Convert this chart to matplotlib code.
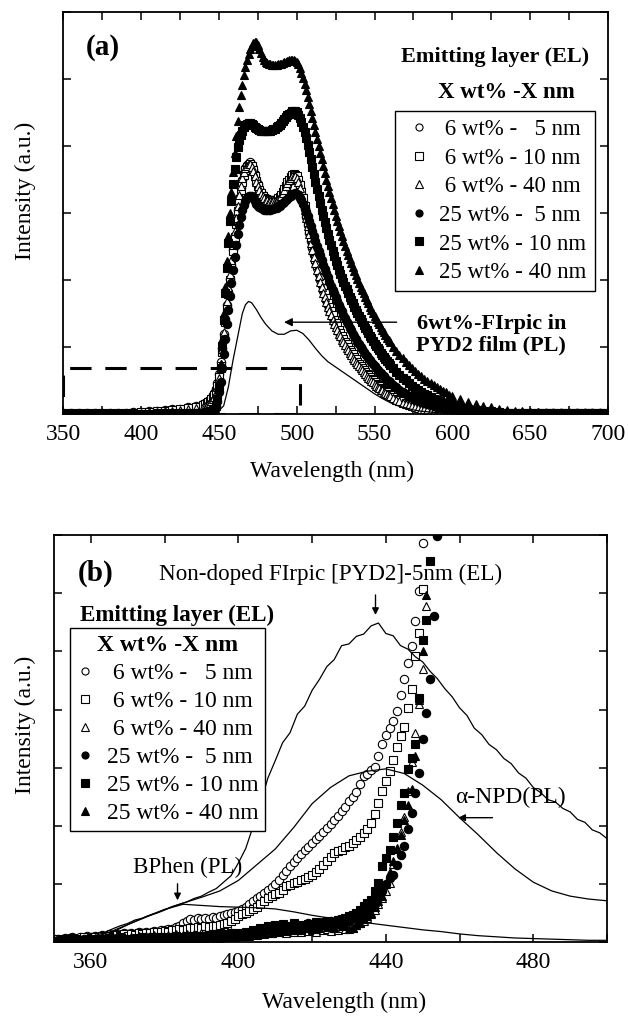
import numpy as np
import matplotlib
matplotlib.use("Agg")
import matplotlib.pyplot as plt
from matplotlib.patches import Rectangle
from matplotlib.ticker import MultipleLocator, NullFormatter

plt.rcParams['font.family'] = ['Liberation Serif', 'DejaVu Serif']

# ---------------- Panel (a) data ----------------
wl_a = np.concatenate([np.arange(350, 441, 5), np.arange(441, 561, 1),
                       np.arange(562, 601, 2), np.arange(605, 701, 5)])

a_6_5 = [0.01,0.01,0.01,0.01,0.01,0.01,0.02,0.02,0.02,0.03,0.03,0.04,0.05,0.06,0.07,0.08,0.10,0.12,0.15,
         0.16,0.17,0.19,0.21,0.24,0.27,0.31,0.37,0.46,0.60,
         0.78,0.98,1.20,1.42,1.62,1.82,2.02,2.22,2.45,2.66,
         2.86,3.05,3.22,3.38,3.50,3.60,3.67,3.72,3.75,3.76,
         3.72,3.66,3.58,3.50,3.43,3.36,3.31,3.27,3.24,3.22,
         3.20,3.19,3.19,3.18,3.18,3.18,3.19,3.20,3.22,3.25,
         3.29,3.33,3.38,3.43,3.48,3.52,3.55,3.57,3.56,3.54,
         3.48,3.39,3.29,3.18,3.06,2.94,2.82,2.70,2.59,2.48,
         2.38,2.28,2.18,2.09,2.00,1.92,1.84,1.77,1.70,1.63,
         1.56,1.50,1.44,1.38,1.33,1.28,1.23,1.18,1.13,1.09,
         1.05,1.01,0.97,0.93,0.90,0.86,0.83,0.79,0.76,0.73,
         0.70,0.67,0.64,0.61,0.59,0.56,0.54,0.51,0.49,0.47,
         0.44,0.42,0.40,0.38,0.36,0.34,0.33,0.31,0.29,0.28,
         0.25,0.22,0.20,0.18,0.16,0.14,0.12,0.11,0.10,0.09,0.08,0.07,0.06,0.05,0.05,0.04,0.03,0.03,0.02,0.02,
         0.02,0.01,0.01,0.01,0.01,0.01,0.01,0.01,0.01,0.01,0.01,0.01,0.01,0.01,0.01,0.01,0.01,0.01,0.01,0.01]
a_6_10 = [0.01,0.01,0.01,0.01,0.01,0.01,0.01,0.02,0.02,0.02,0.03,0.03,0.04,0.05,0.06,0.07,0.09,0.11,0.14,
          0.15,0.16,0.18,0.20,0.22,0.25,0.29,0.34,0.42,0.55,
          0.72,0.92,1.14,1.37,1.58,1.79,2.00,2.21,2.43,2.64,
          2.84,3.03,3.20,3.35,3.47,3.57,3.64,3.69,3.72,3.73,
          3.70,3.64,3.56,3.48,3.41,3.35,3.30,3.26,3.23,3.21,
          3.20,3.19,3.19,3.19,3.19,3.19,3.20,3.22,3.24,3.27,
          3.31,3.36,3.41,3.46,3.50,3.54,3.57,3.58,3.57,3.55,
          3.50,3.42,3.32,3.22,3.10,2.98,2.86,2.74,2.63,2.52,
          2.42,2.32,2.22,2.13,2.04,1.96,1.88,1.80,1.73,1.66,
          1.59,1.53,1.47,1.41,1.36,1.31,1.26,1.21,1.16,1.12,
          1.08,1.04,1.00,0.96,0.92,0.89,0.85,0.82,0.78,0.75,
          0.72,0.69,0.66,0.63,0.60,0.58,0.55,0.52,0.50,0.48,
          0.45,0.43,0.41,0.39,0.37,0.35,0.34,0.32,0.30,0.29,
          0.26,0.23,0.21,0.19,0.17,0.15,0.13,0.12,0.11,0.10,0.09,0.08,0.07,0.06,0.05,0.04,0.04,0.03,0.03,0.02,
          0.02,0.01,0.01,0.01,0.01,0.01,0.01,0.01,0.01,0.01,0.01,0.01,0.01,0.01,0.01,0.01,0.01,0.01,0.01,0.01]
a_6_40 = [0.01,0.01,0.01,0.01,0.01,0.01,0.01,0.01,0.02,0.02,0.02,0.03,0.03,0.04,0.05,0.06,0.07,0.09,0.11,
          0.12,0.13,0.15,0.17,0.19,0.22,0.26,0.31,0.40,0.54,
          0.74,0.97,1.22,1.46,1.68,1.89,2.09,2.30,2.52,2.73,
          2.93,3.11,3.27,3.41,3.52,3.61,3.67,3.71,3.73,3.73,
          3.69,3.63,3.55,3.47,3.40,3.34,3.29,3.25,3.22,3.20,
          3.19,3.18,3.18,3.18,3.18,3.18,3.19,3.21,3.23,3.26,
          3.30,3.35,3.40,3.45,3.49,3.52,3.55,3.56,3.55,3.52,
          3.47,3.38,3.27,3.17,3.05,2.92,2.80,2.68,2.56,2.45,
          2.35,2.25,2.15,2.06,1.97,1.89,1.81,1.74,1.67,1.60,
          1.53,1.47,1.41,1.35,1.30,1.25,1.20,1.16,1.11,1.07,
          1.03,0.99,0.95,0.91,0.88,0.84,0.81,0.77,0.74,0.71,
          0.68,0.65,0.62,0.59,0.57,0.54,0.52,0.49,0.47,0.45,
          0.42,0.40,0.38,0.36,0.35,0.33,0.31,0.30,0.28,0.27,
          0.24,0.21,0.19,0.17,0.15,0.13,0.12,0.10,0.09,0.08,0.07,0.06,0.05,0.05,0.04,0.04,0.03,0.03,0.02,0.02,
          0.02,0.01,0.01,0.01,0.01,0.01,0.01,0.01,0.01,0.01,0.01,0.01,0.01,0.01,0.01,0.01,0.01,0.01,0.01,0.01]
a_25_5 = [0.00,0.00,0.00,0.00,0.00,0.00,0.00,0.00,0.00,0.00,0.00,0.00,0.01,0.01,0.01,0.01,0.01,0.02,0.02,
          0.02,0.03,0.03,0.04,0.05,0.06,0.08,0.12,0.20,0.32,
          0.48,0.68,0.90,1.12,1.34,1.55,1.76,1.96,2.15,2.34,
          2.52,2.68,2.82,2.94,3.04,3.12,3.18,3.22,3.25,3.26,
          3.25,3.22,3.18,3.14,3.11,3.09,3.07,3.06,3.05,3.05,
          3.05,3.05,3.05,3.06,3.06,3.07,3.08,3.10,3.11,3.13,
          3.15,3.17,3.19,3.21,3.24,3.26,3.28,3.29,3.30,3.29,
          3.27,3.23,3.19,3.14,3.08,3.02,2.95,2.88,2.80,2.73,
          2.66,2.58,2.51,2.44,2.37,2.30,2.23,2.17,2.10,2.04,
          1.97,1.91,1.85,1.80,1.74,1.69,1.63,1.58,1.53,1.48,
          1.43,1.38,1.34,1.29,1.25,1.20,1.16,1.12,1.08,1.04,
          1.00,0.97,0.93,0.90,0.86,0.83,0.80,0.77,0.74,0.71,
          0.68,0.66,0.63,0.61,0.58,0.56,0.53,0.51,0.49,0.47,
          0.43,0.40,0.36,0.33,0.30,0.27,0.25,0.23,0.21,0.19,0.17,0.15,0.14,0.12,0.11,0.10,0.09,0.08,0.07,0.06,
          0.05,0.04,0.03,0.03,0.02,0.02,0.02,0.01,0.01,0.01,0.01,0.01,0.01,0.01,0.01,0.01,0.01,0.01,0.01,0.01]
a_25_10 = [0.00,0.00,0.00,0.00,0.00,0.00,0.00,0.00,0.00,0.00,0.00,0.00,0.01,0.01,0.01,0.01,0.01,0.02,0.02,
           0.02,0.03,0.03,0.04,0.05,0.06,0.08,0.12,0.22,0.40,
           0.68,1.02,1.40,1.80,2.18,2.55,2.88,3.18,3.44,3.66,
           3.84,3.98,4.09,4.17,4.23,4.28,4.31,4.33,4.34,4.34,
           4.33,4.31,4.29,4.27,4.25,4.24,4.23,4.22,4.22,4.22,
           4.22,4.22,4.23,4.24,4.25,4.26,4.28,4.30,4.32,4.35,
           4.38,4.40,4.43,4.46,4.48,4.50,4.52,4.53,4.52,4.51,
           4.47,4.42,4.36,4.29,4.21,4.12,4.02,3.91,3.80,3.69,
           3.58,3.47,3.36,3.25,3.15,3.05,2.95,2.86,2.77,2.68,
           2.60,2.52,2.44,2.36,2.29,2.22,2.15,2.09,2.03,1.97,
           1.91,1.86,1.80,1.75,1.70,1.65,1.60,1.55,1.50,1.46,
           1.42,1.37,1.33,1.29,1.25,1.21,1.17,1.13,1.09,1.05,
           1.02,0.98,0.95,0.91,0.88,0.85,0.82,0.79,0.76,0.73,
           0.68,0.63,0.58,0.54,0.50,0.46,0.42,0.39,0.36,0.33,0.30,0.28,0.25,0.23,0.21,0.19,0.17,0.16,0.14,0.13,
           0.10,0.08,0.06,0.05,0.04,0.03,0.02,0.02,0.01,0.01,0.01,0.01,0.01,0.01,0.01,0.01,0.01,0.01,0.01,0.01]
a_25_40 = [0.00,0.00,0.00,0.00,0.00,0.00,0.00,0.00,0.00,0.00,0.00,0.00,0.01,0.01,0.01,0.01,0.01,0.02,0.02,
           0.02,0.03,0.03,0.04,0.05,0.06,0.08,0.12,0.22,0.42,
           0.75,1.12,1.50,1.90,2.28,2.65,3.00,3.32,3.62,3.90,
           4.15,4.38,4.58,4.76,4.92,5.06,5.18,5.29,5.38,5.45,
           5.50,5.54,5.56,5.55,5.51,5.45,5.39,5.33,5.29,5.26,
           5.24,5.23,5.22,5.21,5.21,5.21,5.21,5.22,5.22,5.23,
           5.24,5.25,5.26,5.27,5.28,5.29,5.29,5.29,5.27,5.25,
           5.22,5.16,5.09,5.02,4.93,4.84,4.74,4.63,4.53,4.42,
           4.31,4.21,4.10,4.00,3.90,3.80,3.70,3.60,3.50,3.41,
           3.31,3.22,3.13,3.05,2.96,2.88,2.80,2.73,2.65,2.58,
           2.51,2.44,2.37,2.31,2.25,2.19,2.13,2.07,2.01,1.96,
           1.90,1.85,1.80,1.75,1.70,1.65,1.60,1.55,1.50,1.46,
           1.42,1.38,1.34,1.30,1.26,1.22,1.18,1.14,1.10,1.07,
           1.00,0.94,0.88,0.83,0.78,0.73,0.68,0.64,0.60,0.56,0.52,0.49,0.46,0.43,0.40,0.37,0.34,0.32,0.29,0.27,
           0.22,0.18,0.15,0.12,0.10,0.08,0.06,0.05,0.04,0.03,0.03,0.02,0.02,0.02,0.01,0.01,0.01,0.01,0.01,0.01]

wl_pl = [350,400,440,445,450,453,456,459,462,465,467,469,471,474,477,480,484,488,492,496,
         500,504,508,512,516,520,525,530,535,540,545,550,555,560,565,570,575,580,590,600,620,650,700]
pl_film = [0,0,0.01,0.02,0.05,0.12,0.4,0.8,1.15,1.5,1.63,1.68,1.66,1.56,1.44,1.34,1.24,1.19,1.19,1.24,
           1.25,1.2,1.1,0.98,0.87,0.78,0.7,0.62,0.54,0.46,0.38,0.3,0.23,0.17,0.12,0.09,0.06,0.04,0.02,0.01,0,0,0]

# ---------------- Panel (b) data ----------------
b_6_5 = [0.05,0.06,0.04,0.07,0.05,0.08,0.06,0.09,0.07,0.10,
         0.08,0.10,0.09,0.12,0.10,0.13,0.11,0.14,0.12,0.15,
         0.13,0.16,0.14,0.17,0.15,0.18,0.16,0.19,0.18,0.21,
         0.20,0.23,0.22,0.26,0.28,0.33,0.37,0.39,0.38,0.41,
         0.39,0.42,0.40,0.43,0.42,0.45,0.46,0.48,0.50,0.52,
         0.54,0.57,0.61,0.65,0.70,0.75,0.80,0.85,0.90,0.95,
         1.00,1.07,1.15,1.23,1.30,1.37,1.45,1.52,1.58,1.64,
         1.70,1.77,1.83,1.90,1.97,2.03,2.10,2.17,2.25,2.33,
         2.42,2.50,2.58,2.72,2.85,2.90,2.96,3.02,3.20,3.40,
         3.57,3.68,3.80,3.98,4.25,4.52,4.80,5.10,5.52,6.04,
         6.87,7.60]
b_6_10 = [0.03,0.05,0.02,0.06,0.04,0.07,0.03,0.06,0.08,0.05,
          0.07,0.09,0.06,0.10,0.08,0.11,0.09,0.12,0.10,0.13,
          0.11,0.14,0.12,0.15,0.13,0.16,0.16,0.17,0.18,0.17,
          0.19,0.18,0.20,0.21,0.22,0.21,0.23,0.25,0.24,0.26,
          0.25,0.27,0.26,0.28,0.28,0.29,0.31,0.33,0.36,0.40,
          0.45,0.48,0.50,0.54,0.57,0.60,0.65,0.70,0.75,0.79,
          0.82,0.85,0.90,0.96,0.99,1.02,1.04,1.06,1.08,1.12,
          1.16,1.20,1.25,1.32,1.39,1.46,1.54,1.57,1.59,1.63,
          1.66,1.70,1.75,1.80,1.87,1.94,2.04,2.20,2.40,2.60,
          2.77,2.95,3.14,3.35,3.55,3.70,4.03,4.35,4.92,5.32,
          6.07,7.50]
b_6_40 = [0.02,0.05,0.03,0.06,0.02,0.07,0.04,0.03,0.06,0.05,
          0.04,0.07,0.05,0.08,0.04,0.06,0.09,0.05,0.07,0.10,
          0.06,0.09,0.07,0.11,0.08,0.10,0.07,0.12,0.09,0.11,
          0.08,0.12,0.10,0.13,0.09,0.12,0.14,0.10,0.13,0.11,
          0.15,0.12,0.14,0.11,0.16,0.13,0.15,0.12,0.17,0.14,
          0.16,0.13,0.18,0.15,0.17,0.14,0.19,0.16,0.18,0.15,
          0.20,0.17,0.19,0.16,0.21,0.18,0.20,0.17,0.22,0.19,
          0.21,0.18,0.23,0.20,0.22,0.19,0.24,0.21,0.25,0.23,
          0.27,0.25,0.30,0.33,0.37,0.42,0.48,0.56,0.65,0.76,
          0.88,1.02,1.34,1.62,1.90,2.15,2.60,3.10,3.60,4.10,
          4.70,5.78,7.40]
b_25_5 = [0.01,0.03,0.00,0.04,0.02,0.05,0.01,0.03,0.06,0.02,
          0.04,0.01,0.05,0.03,0.06,0.02,0.04,0.07,0.03,0.05,
          0.02,0.06,0.04,0.07,0.03,0.05,0.08,0.04,0.06,0.03,
          0.07,0.05,0.08,0.04,0.06,0.09,0.05,0.07,0.10,0.06,
          0.08,0.05,0.09,0.07,0.10,0.06,0.11,0.08,0.12,0.09,
          0.13,0.10,0.15,0.11,0.18,0.14,0.20,0.16,0.22,0.17,
          0.24,0.19,0.26,0.21,0.28,0.23,0.30,0.25,0.27,0.32,
          0.26,0.33,0.28,0.35,0.30,0.36,0.31,0.38,0.34,0.40,
          0.36,0.42,0.39,0.45,0.43,0.52,0.58,0.66,0.76,0.88,
          1.00,1.10,1.16,1.32,1.50,1.65,1.95,2.22,2.57,2.91,
          3.49,3.94,4.52,5.61,6.98]
b_25_10 = [0.02,0.00,0.04,0.01,0.03,0.05,0.02,0.04,0.01,0.06,
           0.03,0.05,0.02,0.06,0.04,0.07,0.03,0.05,0.08,0.04,
           0.06,0.03,0.07,0.05,0.08,0.04,0.07,0.09,0.05,0.08,
           0.06,0.09,0.07,0.10,0.06,0.09,0.11,0.08,0.10,0.07,
           0.11,0.09,0.12,0.08,0.13,0.10,0.14,0.11,0.15,0.12,
           0.16,0.13,0.18,0.15,0.21,0.17,0.24,0.20,0.27,0.22,
           0.29,0.24,0.31,0.26,0.28,0.33,0.27,0.30,0.25,0.31,
           0.28,0.34,0.29,0.32,0.36,0.33,0.35,0.38,0.39,0.41,
           0.44,0.47,0.50,0.56,0.62,0.68,0.73,0.88,1.02,1.31,
           1.45,1.59,1.80,2.05,2.35,2.57,2.97,3.17,3.40,4.20,
           5.20,5.55,6.55,7.50]
b_25_40 = [0.01,0.03,0.01,0.02,0.04,0.01,0.03,0.05,0.02,0.04,
           0.02,0.05,0.03,0.06,0.02,0.04,0.06,0.03,0.05,0.02,
           0.05,0.03,0.06,0.04,0.07,0.03,0.06,0.04,0.08,0.05,
           0.07,0.04,0.08,0.06,0.09,0.05,0.08,0.06,0.10,0.07,
           0.09,0.06,0.11,0.08,0.10,0.07,0.12,0.09,0.11,0.08,
           0.13,0.10,0.14,0.11,0.16,0.12,0.18,0.14,0.20,0.15,
           0.22,0.17,0.24,0.19,0.23,0.20,0.26,0.21,0.25,0.28,
           0.22,0.27,0.24,0.30,0.26,0.29,0.25,0.31,0.28,0.30,
           0.22,0.25,0.30,0.33,0.40,0.45,0.50,0.60,0.70,0.80,
           1.00,1.20,1.40,1.60,1.85,2.10,2.35,2.63,3.20,4.17,
           5.00,5.98,7.30]

wl_el = np.arange(350, 501, 2)
el_nondoped = [0.00,0.00,0.01,0.02,0.04,0.08,0.13,0.17,0.23,0.28,
               0.32,0.38,0.41,0.46,0.50,0.55,0.61,0.65,0.69,0.75,
               0.79,0.86,0.92,1.03,1.14,1.36,1.61,1.99,2.38,2.82,
               3.12,3.43,3.60,3.92,4.06,4.33,4.52,4.74,4.86,5.10,
               5.13,5.26,5.30,5.44,5.49,5.31,5.27,5.10,5.04,4.91,
               4.82,4.66,4.53,4.36,4.22,4.03,3.90,3.68,3.57,3.40,
               3.31,3.16,3.07,2.91,2.82,2.66,2.57,2.45,2.41,2.30,
               2.24,2.11,2.06,1.93,1.88,1.78]
wl_pl_b = np.arange(350, 501, 5)
npd_pl = [0.00,0.00,0.03,0.14,0.30,0.44,0.56,0.67,0.77,0.88,1.06,1.33,1.60,1.97,2.38,2.66,
          2.86,2.94,2.98,2.90,2.70,2.45,2.14,1.85,1.54,1.26,1.03,0.88,0.79,0.74,0.71]
bphen_pl = [0.00,0.01,0.06,0.17,0.30,0.43,0.56,0.65,0.63,0.61,0.60,0.59,0.57,0.52,0.46,0.41,
            0.37,0.33,0.29,0.25,0.21,0.18,0.14,0.11,0.09,0.07,0.06,0.05,0.04,0.03,0.03]

labels = [' 6 wt% -   5 nm', ' 6 wt% - 10 nm', ' 6 wt% - 40 nm',
          '25 wt% -  5 nm', '25 wt% - 10 nm', '25 wt% - 40 nm']
markers = ['o', 's', '^', 'o', 's', '^']
faces = ['white', 'white', 'white', 'black', 'black', 'black']

series_a = [a_6_5, a_6_10, a_6_40, a_25_5, a_25_10, a_25_40]
series_b = [b_6_5, b_6_10, b_6_40, b_25_5, b_25_10, b_25_40]

# ---------------- Figure ----------------
fig = plt.figure(figsize=(6.28, 10.17), dpi=100)
axa = fig.add_axes([0.101, 0.593, 0.867, 0.395])
axb = fig.add_axes([0.086, 0.0737, 0.8806, 0.400])

def style_axes(ax):
    for s in ax.spines.values():
        s.set_linewidth(1.3)
    ax.tick_params(which='both', direction='in', top=True, right=True,
                   width=1.1, labelsize=17, pad=7)
    ax.tick_params(which='major', length=6)
    ax.tick_params(which='minor', length=6)
    ax.yaxis.set_major_formatter(NullFormatter())

# ---- panel (a)
handles = []
for y, m, fc, lab in zip(series_a, markers, faces, labels):
    h, = axa.plot(wl_a, y, linestyle='none', marker=m, ms=6, mfc=fc,
                  mec='black', mew=0.8, label=lab)
    handles.append(h)
axa.plot(wl_pl, pl_film, color='black', lw=0.9)
axa.add_patch(Rectangle((350, 0), 152, 0.69, fill=False, lw=2.2,
                        ls=(0, (7, 4.5)), ec='black', zorder=5))
axa.set_xlim(350, 700)
axa.set_ylim(0, 6)
axa.xaxis.set_major_locator(MultipleLocator(50))
axa.xaxis.set_minor_locator(MultipleLocator(25))
axa.yaxis.set_major_locator(MultipleLocator(1))
style_axes(axa)
axa.set_xlabel('Wavelength (nm)', fontsize=17)
axa.xaxis.set_label_coords(0.493, -0.117)
axa.set_ylabel('Intensity (a.u.)', fontsize=17)
axa.yaxis.set_label_coords(-0.05, 0.555)
axa.text(0.0725, 0.913, '(a)', transform=axa.transAxes, fontsize=21,
         fontweight='bold', ha='center', va='center')
axa.text(0.792, 0.888, 'Emitting layer (EL)', transform=axa.transAxes,
         fontsize=16, fontweight='bold', ha='center', va='center')
axa.text(0.813, 0.801, 'X wt% -X nm', transform=axa.transAxes,
         fontsize=16.5, fontweight='bold', ha='center', va='center')
leg = axa.legend(handles=handles, loc='upper right', bbox_to_anchor=(0.976, 0.754),
                 fontsize=16.5, frameon=True, fancybox=False, edgecolor='black',
                 framealpha=1, handlelength=1.4, handletextpad=0.2,
                 labelspacing=0.33, borderpad=0.35, markerscale=0.85,
                 borderaxespad=0)
leg.get_frame().set_linewidth(1.0)
axa.annotate('', xy=(490, 1.37), xytext=(566, 1.37),
             arrowprops=dict(arrowstyle='-|>', color='black', lw=1.0,
                             mutation_scale=12))
axa.text(625, 1.18, '6wt%-FIrpic in\nPYD2 film (PL)', fontsize=16,
         fontweight='bold', ha='center', va='center', linespacing=1.1)

# ---- panel (b)
handles_b = []
for y, m, fc, lab in zip(series_b, markers, faces, labels):
    h, = axb.plot(np.arange(350, 350 + len(y)), y, linestyle='none', marker=m,
                  ms=6, mfc=fc, mec='black', mew=0.8, label=lab)
    handles_b.append(h)
axb.plot(wl_el, el_nondoped, color='black', lw=0.9)
axb.plot(wl_pl_b, npd_pl, color='black', lw=0.9)
axb.plot(wl_pl_b, bphen_pl, color='black', lw=0.9)
axb.set_xlim(350, 500)
axb.set_ylim(0, 7)
axb.xaxis.set_major_locator(MultipleLocator(40))
axb.xaxis.set_minor_locator(MultipleLocator(20))
axb.yaxis.set_major_locator(MultipleLocator(1))
style_axes(axb)
axb.set_xlabel('Wavelength (nm)', fontsize=17)
axb.xaxis.set_label_coords(0.524, -0.122)
axb.set_ylabel('Intensity (a.u.)', fontsize=17)
axb.yaxis.set_label_coords(-0.032, 0.533)
axb.text(0.076, 0.907, '(b)', transform=axb.transAxes, fontsize=21,
         fontweight='bold', ha='center', va='center')
axb.text(0.222, 0.803, 'Emitting layer (EL)', transform=axb.transAxes,
         fontsize=16.6, fontweight='bold', ha='center', va='center')
legb = axb.legend(handles=handles_b, loc='upper left', bbox_to_anchor=(0.029, 0.771),
                  fontsize=17, frameon=True, fancybox=False, edgecolor='black',
                  framealpha=1, handlelength=0.7, handletextpad=0.55,
                  labelspacing=0.27, borderpad=0.3, markerscale=0.85,
                  borderaxespad=0, title='X wt% -X nm',
                  title_fontproperties={'weight': 'bold', 'size': 17})
legb.get_frame().set_linewidth(1.0)
axb.text(424.9, 6.33, 'Non-doped FIrpic [PYD2]-5nm (EL)', fontsize=16.7,
         ha='center', va='center')
axb.annotate('', xy=(437.2, 5.58), xytext=(437.2, 6.02),
             arrowprops=dict(arrowstyle='-|>', color='black', lw=1.0,
                             mutation_scale=10))
axb.text(386.3, 1.29, 'BPhen (PL)', fontsize=16.6, ha='center', va='center')
axb.annotate('', xy=(383.5, 0.67), xytext=(383.5, 1.05),
             arrowprops=dict(arrowstyle='-|>', color='black', lw=1.0,
                             mutation_scale=10))
axb.text(473.7, 2.48, 'α-NPD(PL)', fontsize=17, ha='center', va='center')
axb.annotate('', xy=(458.9, 2.14), xytext=(469.7, 2.14),
             arrowprops=dict(arrowstyle='-|>', color='black', lw=1.0,
                             mutation_scale=10))

fig.savefig('out.png', dpi=100)
